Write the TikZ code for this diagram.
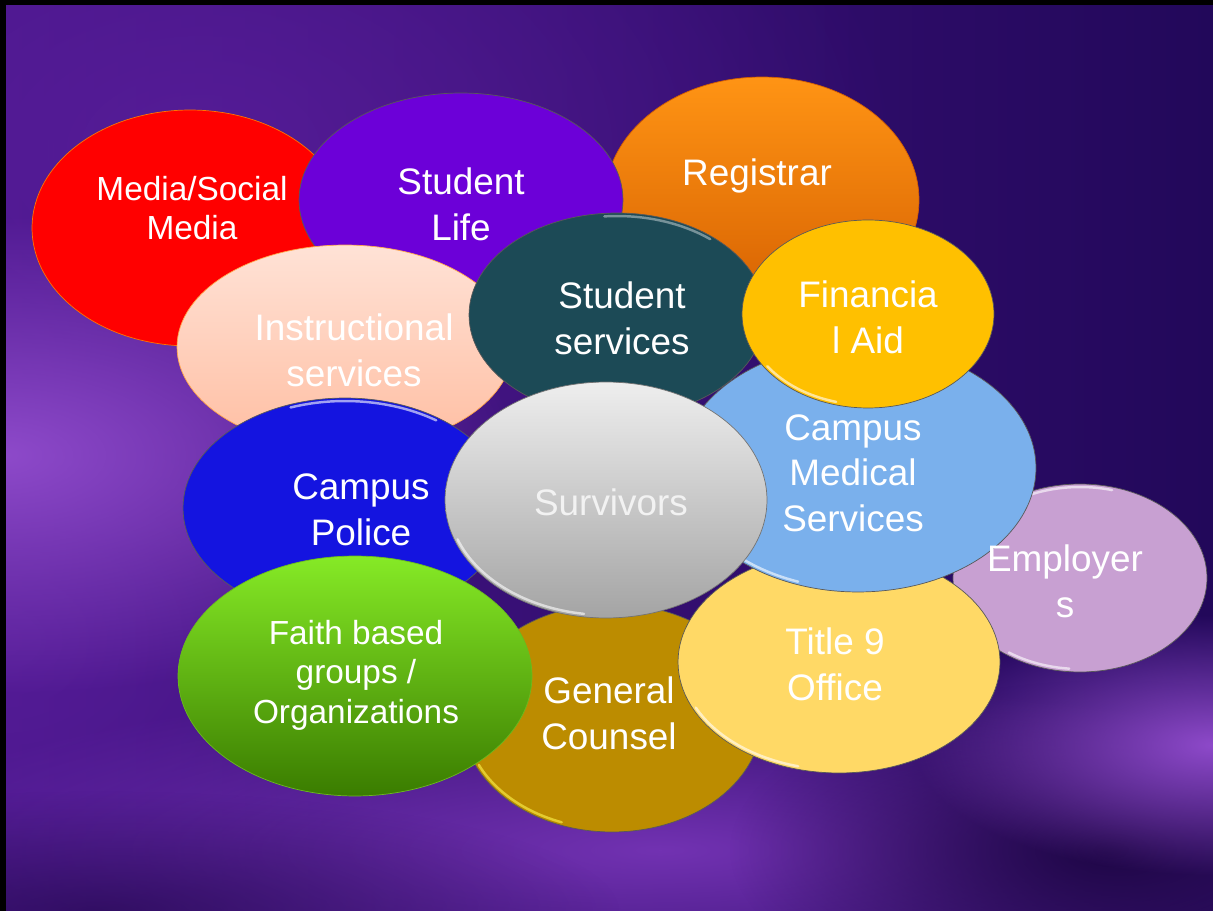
\documentclass[tikz,border=0pt]{standalone}
\usepackage{fontspec}
\newfontfamily\arial{Liberation Sans}
\usetikzlibrary{shapes.geometric,fadings}

% backdrop
\definecolor{bgleft}{HTML}{48168A}
\definecolor{bgright}{HTML}{22085A}
\definecolor{bgsoft}{HTML}{5A1E9C}
\definecolor{bglight}{HTML}{8E4ACA}
\definecolor{bgband}{HTML}{7232B2}
\definecolor{bgdark}{HTML}{1E0646}
% bubbles
\definecolor{redbub}{HTML}{FF0000}
\definecolor{lifebub}{HTML}{6C00D8}
\definecolor{regtop}{HTML}{FF9414}
\definecolor{regbot}{HTML}{D45E00}
\definecolor{instrtop}{HTML}{FFE2D6}
\definecolor{instrbot}{HTML}{FFBEA2}
\definecolor{studbub}{HTML}{1C4A56}
\definecolor{aidbub}{HTML}{FFC000}
\definecolor{medbub}{HTML}{7AB0EC}
\definecolor{emplbub}{HTML}{C8A0D2}
\definecolor{policebub}{HTML}{1414E0}
\definecolor{survtop}{HTML}{EEEEEE}
\definecolor{survbot}{HTML}{A4A4A4}
\definecolor{faithtop}{HTML}{86EA26}
\definecolor{faithbot}{HTML}{3A7C00}
\definecolor{counselbub}{HTML}{BC8C00}
\definecolor{titlebub}{HTML}{FFD966}

\tikzfading[name=glow, inner color=transparent!0, outer color=transparent!100]

\tikzset{
  bubble/.style={ellipse, inner sep=0pt, draw=black!65, line width=0.4pt},
  gloss/.style={draw=white, draw opacity=.6, line width=1.4pt, line cap=round},
  word/.style={text=white, align=center, inner sep=0pt, font=\arial\fontsize{21}{26}\selectfont},
  smallword/.style={word, font=\arial\fontsize{19}{22.5}\selectfont},
}

\begin{document}
\begin{tikzpicture}[x=0.02cm, y=-0.02cm]
  \useasboundingbox (0,0) rectangle (1213,911);
  \fill[black] (0,0) rectangle (1213,911);
  \begin{scope}
    \clip (6,6) rectangle (1213,911);
    \shade[left color=bgleft, right color=bgright] (6,6) rectangle (1213,911);
    \fill[bgsoft, path fading=glow, fill opacity=.8] (200,150) ellipse (700 and 450);
    \fill[bgsoft, path fading=glow, fill opacity=.7] (0,640) ellipse (420 and 320);
    \fill[bglight, path fading=glow] (0,455) ellipse (520 and 240);
    \fill[bgband, path fading=glow] (660,850) ellipse (820 and 170);
    \fill[bgdark, path fading=glow, fill opacity=.6] (100,911) ellipse (520 and 120);
    \fill[bgdark, path fading=glow] (1110,850) ellipse (380 and 170);
    \fill[bglight, path fading=glow] (1213,745) ellipse (300 and 130);
  \end{scope}

  % the bubbles, back to front
  \node[bubble, top color=regtop, bottom color=regbot, draw=regbot,
        minimum width=6.28cm, minimum height=4.92cm] (reg) at (762,200) {};
  \node[bubble, fill=redbub, draw=orange!90!red,
        minimum width=6.32cm, minimum height=4.72cm] (media) at (190,228) {};
  \node[bubble, fill=lifebub,
        minimum width=6.48cm, minimum height=4.28cm] (life) at (461,200) {};
  \node[bubble, top color=instrtop, bottom color=instrbot, draw=orange!70,
        minimum width=6.72cm, minimum height=4.08cm] (instr) at (345,347) {};
  \node[bubble, fill=policebub,
        minimum width=6.48cm, minimum height=4.40cm] (police) at (345,508) {};
  \draw[gloss, shift={(police.center)}] (55:3.18cm and 2.14cm)
    arc[start angle=55, end angle=110, x radius=3.18cm, y radius=2.14cm];
  \node[bubble, fill=emplbub,
        minimum width=5.08cm, minimum height=3.76cm] (empl) at (1080,578) {};
  \draw[gloss, shift={(empl.center)}] (75:2.48cm and 1.82cm)
    arc[start angle=75, end angle=125, x radius=2.48cm, y radius=1.82cm];
  \draw[gloss, shift={(empl.center)}] (235:2.48cm and 1.82cm)
    arc[start angle=235, end angle=265, x radius=2.48cm, y radius=1.82cm];
  \node[bubble, fill=counselbub,
        minimum width=6.00cm, minimum height=4.56cm] (counsel) at (612,718) {};
  \draw[gloss, draw=yellow!70, shift={(counsel.center)}] (205:2.94cm and 2.22cm)
    arc[start angle=205, end angle=250, x radius=2.94cm, y radius=2.22cm];
  \node[bubble, fill=titlebub,
        minimum width=6.44cm, minimum height=4.44cm] (title) at (839,662) {};
  \draw[gloss, shift={(title.center)}] (205:3.16cm and 2.16cm)
    arc[start angle=205, end angle=255, x radius=3.16cm, y radius=2.16cm];
  \node[bubble, fill=medbub,
        minimum width=7.12cm, minimum height=4.96cm] (med) at (858,468) {};
  \draw[gloss, shift={(med.center)}] (215:3.50cm and 2.42cm)
    arc[start angle=215, end angle=250, x radius=3.50cm, y radius=2.42cm];
  \node[bubble, fill=studbub,
        minimum width=5.92cm, minimum height=4.08cm] (stud) at (617,315) {};
  \draw[gloss, draw opacity=.4, shift={(stud.center)}] (50:2.90cm and 1.98cm)
    arc[start angle=50, end angle=95, x radius=2.90cm, y radius=1.98cm];
  \node[bubble, fill=aidbub,
        minimum width=5.04cm, minimum height=3.76cm] (aid) at (868,314) {};
  \draw[gloss, shift={(aid.center)}] (215:2.46cm and 1.82cm)
    arc[start angle=215, end angle=255, x radius=2.46cm, y radius=1.82cm];
  \node[bubble, top color=faithtop, bottom color=faithbot, draw=faithtop!80!black,
        minimum width=7.08cm, minimum height=4.80cm] (faith) at (355,676) {};
  \node[bubble, top color=survtop, bottom color=survbot, draw=black!55,
        minimum width=6.44cm, minimum height=4.72cm] (surv) at (606,500) {};
  \draw[gloss, shift={(surv.center)}] (200:3.16cm and 2.30cm)
    arc[start angle=200, end angle=262, x radius=3.16cm, y radius=2.30cm];

  % labels
  \node[smallword] (media-t) at (192,208) {Media/Social\\Media};
  \node[word] (life-t) at (461,204) {Student\\Life};
  \node[word] (reg-t) at (757,176) {Registrar};
  \node[word] (instr-t) at (354,350) {Instructional\\services};
  \node[word] (stud-t) at (622,318) {Student\\services};
  \node[word] (aid-t) at (868,317) {Financia\\l Aid};
  \node[word] (med-t) at (853,473) {Campus\\Medical\\Services};
  \node[word] (empl-t) at (1065,581) {Employer\\s};
  \node[word] (police-t) at (361,510) {Campus\\Police};
  \node[word, text=white!95!black] (surv-t) at (611,502) {Survivors};
  \node[smallword] (faith-t) at (356,675) {Faith based\\groups /\\Organizations};
  \node[word] (counsel-t) at (609,713) {General\\Counsel};
  \node[word] (title-t) at (835,664) {Title 9\\Office};
\end{tikzpicture}
\end{document}
